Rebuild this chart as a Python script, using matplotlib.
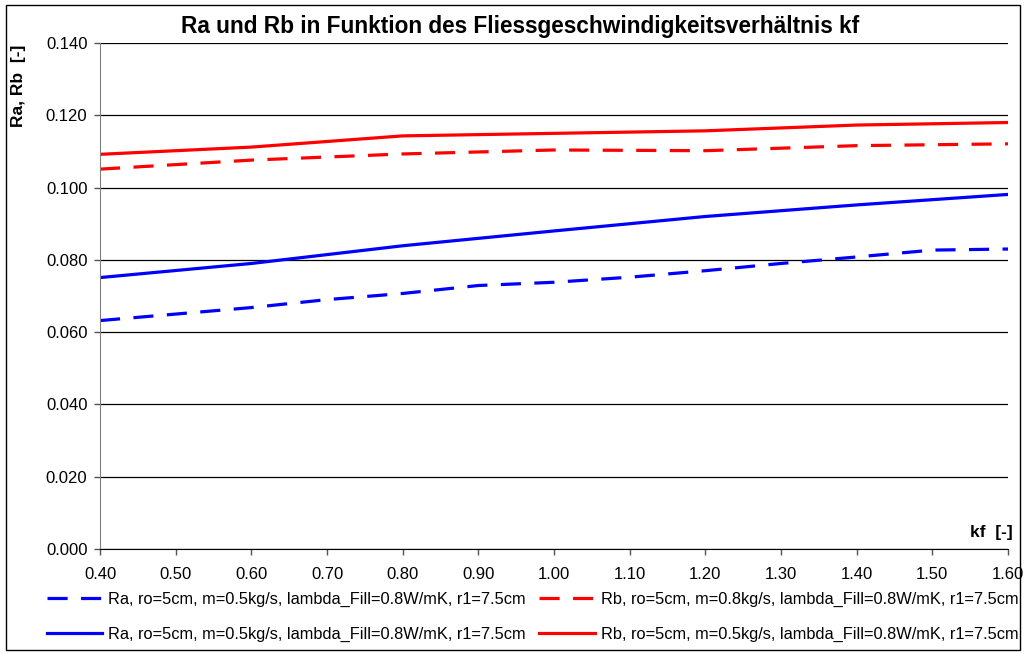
import matplotlib
matplotlib.use("Agg")
import matplotlib.pyplot as plt
from matplotlib.patches import Rectangle

plt.rcParams['font.family'] = ['Liberation Sans', 'DejaVu Sans']

# kf values (flow velocity ratio)
kf_coarse = [0.4, 0.6, 0.8, 1.0, 1.2, 1.4, 1.6]
kf_fine = [0.4, 0.5, 0.6, 0.7, 0.8, 0.9, 1.0, 1.1, 1.2, 1.3, 1.4, 1.5, 1.6]

# Ra / Rb series
ra_dashed = [0.0632, 0.0650, 0.0668, 0.0690, 0.0707, 0.0729, 0.0738,
             0.0752, 0.0770, 0.0790, 0.0808, 0.0827, 0.0830]
rb_dashed = [0.1051, 0.1076, 0.1093, 0.1104, 0.1102, 0.1116, 0.1121]
ra_solid = [0.0751, 0.0790, 0.0839, 0.0880, 0.0920, 0.0952, 0.0981]
rb_solid = [0.1092, 0.1112, 0.1143, 0.1150, 0.1157, 0.1173, 0.1180]

lab_ra_d = "Ra, ro=5cm, m=0.5kg/s, lambda_Fill=0.8W/mK, r1=7.5cm"
lab_rb_d = "Rb, ro=5cm, m=0.8kg/s, lambda_Fill=0.8W/mK, r1=7.5cm"
lab_ra_s = "Ra, ro=5cm, m=0.5kg/s, lambda_Fill=0.8W/mK, r1=7.5cm"
lab_rb_s = "Rb, ro=5cm, m=0.5kg/s, lambda_Fill=0.8W/mK, r1=7.5cm"

xticks = [0.4 + 0.1 * i for i in range(13)]
yticks = [0.02 * i for i in range(8)]

fig = plt.figure(figsize=(10.26, 6.54), dpi=100)
ax = fig.add_axes([100 / 1026, 1 - 549 / 654, 908 / 1026, 506 / 654])

lw = 2.3
dash = (6.3, 4.2)
h1, = ax.plot(kf_fine, ra_dashed, color='#0000ff', lw=lw, dashes=dash, label=lab_ra_d)
h2, = ax.plot(kf_coarse, rb_dashed, color='#ff0000', lw=lw, dashes=dash, label=lab_rb_d)
h3, = ax.plot(kf_coarse, ra_solid, color='#0000ff', lw=lw, label=lab_ra_s)
h4, = ax.plot(kf_coarse, rb_solid, color='#ff0000', lw=lw, label=lab_rb_s)

ax.set_xlim(0.4, 1.6)
ax.set_ylim(0, 0.14)
ax.set_xticks(xticks)
ax.set_xticklabels([f"{v:.2f}" for v in xticks])
ax.set_yticks(yticks)
ax.set_yticklabels([f"{v:.3f}" for v in yticks])
ax.tick_params(labelsize=12, length=4, width=1, color='#555555', pad=5)
ax.tick_params(axis='x', pad=9)
ax.yaxis.grid(True, color='#000000', lw=0.9)
ax.set_axisbelow(True)
for s in ['top', 'right']:
    ax.spines[s].set_visible(False)
ax.spines['left'].set_color('#808080')
ax.spines['bottom'].set_color('#000000')

fig.text(0.507, 1 - 27 / 654, "Ra und Rb in Funktion des Fliessgeschwindigkeitsverhältnis kf",
         ha='center', va='center', fontsize=16.3, fontweight='bold')
fig.text(19 / 1026, 1 - 86 / 654, "Ra, Rb  [-]", rotation=90, ha='center', va='center',
         fontsize=12.5, fontweight='bold')
fig.text(1013 / 1026, 1 - 532 / 654, "kf  [-]", ha='right', va='center',
         fontsize=12.5, fontweight='bold')

fig.legend([h1, h3, h2, h4], [lab_ra_d, lab_ra_s, lab_rb_d, lab_rb_s],
           ncol=2, loc='center', bbox_to_anchor=(0.519, 1 - 617 / 654),
           frameon=False, fontsize=11.8, handlelength=3.4, columnspacing=0.8,
           labelspacing=1.22, handletextpad=0.37, borderpad=0.2)

fig.patches.append(Rectangle((6 / 1026, 4 / 654), 1014 / 1026, 645 / 654,
                             transform=fig.transFigure, fill=False,
                             edgecolor='#000000', lw=1))

fig.savefig("out.png", dpi=100)
